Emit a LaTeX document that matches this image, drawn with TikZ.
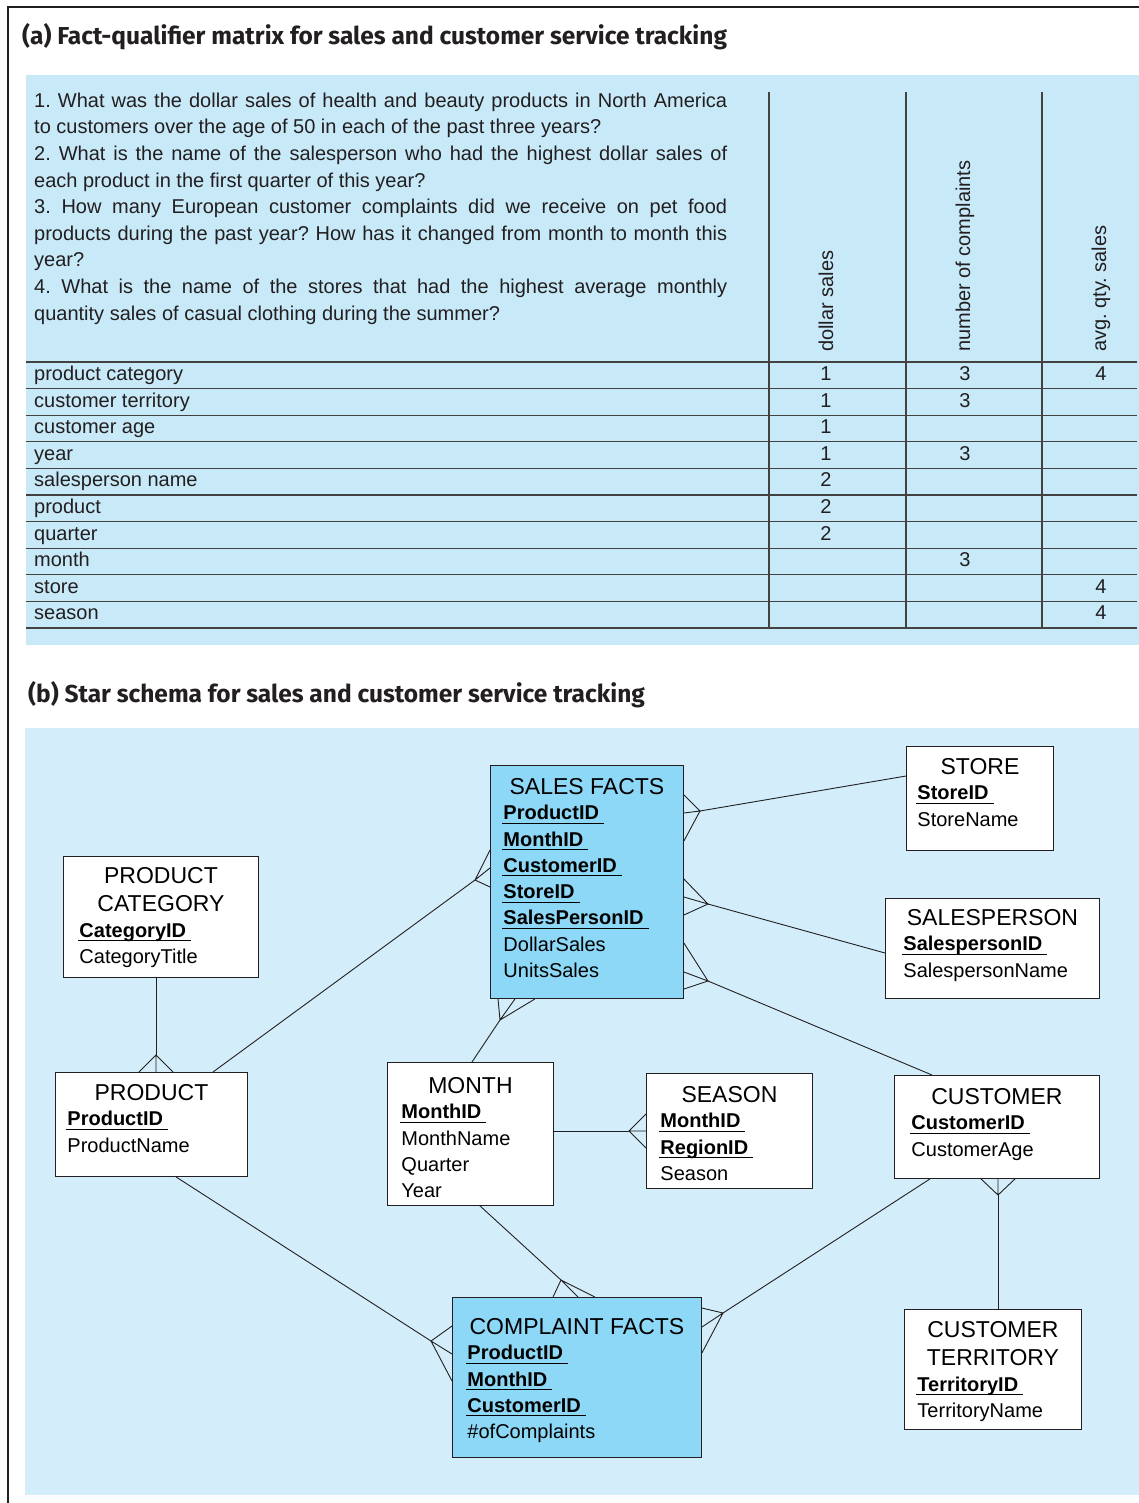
\documentclass[tikz,border=0pt]{standalone}
\usepackage{fontspec}
\setmainfont{Liberation Sans}
\newfontfamily\headfont{Fira Sans}
\frenchspacing
\definecolor{panelA}{HTML}{C7E9F8}
\definecolor{panelB}{HTML}{D3EEFA}
\definecolor{factblue}{HTML}{8DD8F6}
\definecolor{ink}{HTML}{231F20}
\newcommand{\pk}[1]{\leavevmode\setbox0\hbox{\bfseries #1}\rlap{\kern-1pt\rule[-4pt]{\dimexpr\wd0+6pt\relax}{1.1pt}}\box0}
\newcommand{\ebox}[6]{\parbox[c][#2pt][t]{#1pt}{\centering\fontsize{23}{28.5}\selectfont\rule{0pt}{#4pt}#5\par
\vspace{-1pt}\raggedright\leftskip=#3pt\fontsize{20}{26.3}\selectfont #6\par}}
\newcommand{\crow}[4]{\draw[conn] (#2) -- (#1) -- (#3) (#1) -- (#4);}
\begin{document}
\begin{tikzpicture}[x=1pt,y=-1pt,
entity/.style={draw=ink,line width=0.9pt,fill=white,inner sep=0pt,anchor=north west},
fact/.style={entity,fill=factblue},
conn/.style={draw=ink,line width=0.9pt},
grid/.style={draw=ink!85,line width=1.2pt},
headtitle/.style={anchor=base west,inner sep=0pt,text=ink,font=\headfont\bfseries\fontsize{24.5}{28}\selectfont},
qtext/.style={anchor=north west,inner sep=0pt,text width=693pt,align=justify,text=ink,font=\fontsize{20}{26.6}\selectfont},
rowlab/.style={anchor=base west,inner sep=0pt,text=ink,font=\fontsize{20}{24}\selectfont},
cell/.style={anchor=base,inner sep=0pt,text=ink,font=\fontsize{20}{24}\selectfont},
colhead/.style={rotate=90,anchor=west,inner sep=0pt,text=ink,font=\fontsize{20}{24}\selectfont}]
\useasboundingbox (0,0) rectangle (1139,1503);
\draw[ink,line width=2.5pt] (8,1503) -- (8,7) -- (1139,7);
\node[headtitle] (titleA) at (22,45) {(a) Fact-qualifier matrix for sales and customer service tracking};
\fill[panelA] (26,75) rectangle (1139,645);
\node[qtext] (questions) at (34,92.6) {1. What was the dollar sales of health and beauty products in North America\linebreak
to customers over the age of 50 in each of the past three years?\par
2. What is the name of the salesperson who had the highest dollar sales of\linebreak
each product in the first quarter of this year?\par
3. How many European customer complaints did we receive on pet food\linebreak
products during the past year? How has it changed from month to month this\linebreak
year?\par
4. What is the name of the stores that had the highest average monthly\linebreak
quantity sales of casual clothing during the summer?};
\foreach \c in {769,906,1042}{
\draw[grid] (\c,92) -- (\c,628);
}
\foreach \k in {0,...,10}{
\draw[grid] (26,{362+26.6*\k}) -- (1137,{362+26.6*\k});
}
\node[colhead] (hdollar) at (826,352) {dollar sales};
\node[colhead] (hcompl) at (965,352) {number of complaints};
\node[colhead] (hqty) at (1101,352) {avg. qty. sales};
\foreach \lab [count=\i from 0] in {product category,customer territory,customer age,year,salesperson name,product,quarter,month,store,season}{
\node[rowlab] (row\i) at (34,{380.5+26.6*\i}) {\lab};
}
\foreach \i/\c/\v in {0/826/1,0/965/3,0/1101/4,1/826/1,1/965/3,2/826/1,3/826/1,3/965/3,4/826/2,5/826/2,6/826/2,7/965/3,8/1101/4,9/1101/4}{
\node[cell] (cell\i-\c) at (\c,{380.5+26.6*\i}) {\v};
}
\node[headtitle] (titleB) at (28,702) {(b) Star schema for sales and customer service tracking};
\fill[panelB] (25,728) rectangle (1139,1495);
\node[fact] (sales) at (490,765) {\ebox{193}{233}{13}{29}{SALES FACTS}{\pk{ProductID}\\\pk{MonthID}\\\pk{CustomerID}\\\pk{StoreID}\\\pk{SalesPersonID}\\DollarSales\\UnitsSales}};
\node[entity] (store) at (906,746) {\ebox{147}{104}{11}{28}{STORE}{\pk{StoreID}\\StoreName}};
\node[entity] (pcat) at (63,856) {\ebox{195}{121}{16}{27}{PRODUCT\\CATEGORY}{\pk{CategoryID}\\CategoryTitle}};
\node[entity] (salesperson) at (885,898) {\ebox{214}{100}{18}{27}{SALESPERSON}{\pk{SalespersonID}\\SalespersonName}};
\node[entity] (product) at (55,1072) {\ebox{192}{104}{12}{28}{PRODUCT}{\pk{ProductID}\\ProductName}};
\node[entity] (month) at (387,1062) {\ebox{166}{143}{14}{31}{MONTH}{\pk{MonthID}\\MonthName\\Quarter\\Year}};
\node[entity] (season) at (646,1073) {\ebox{166}{115}{14}{29}{SEASON}{\pk{MonthID}\\\pk{RegionID}\\Season}};
\node[entity] (customer) at (894,1075) {\ebox{205}{103}{17}{29}{CUSTOMER}{\pk{CustomerID}\\CustomerAge}};
\node[fact] (complaint) at (452,1297) {\ebox{249}{160}{15}{37}{COMPLAINT FACTS}{\pk{ProductID}\\\pk{MonthID}\\\pk{CustomerID}\\\#ofComplaints}};
\node[entity] (territory) at (904,1309) {\ebox{177}{120}{13}{28}{CUSTOMER\\TERRITORY}{\pk{TerritoryID}\\TerritoryName}};
\coordinate (fStore) at (700,811);
\draw[conn] (store.west |- 0,776) -- (fStore);
\crow{fStore}{sales.east |- 0,795}{sales.east |- 0,813}{sales.east |- 0,841}
\coordinate (fSalesp) at (708,904);
\draw[conn] (salesperson.west |- 0,953) -- (fSalesp);
\crow{fSalesp}{sales.east |- 0,879}{sales.east |- 0,897}{sales.east |- 0,915}
\coordinate (fCust) at (708,981);
\draw[conn] (customer.north -| 932,0) -- (fCust);
\crow{fCust}{sales.east |- 0,943}{sales.east |- 0,972}{sales.east |- 0,989}
\coordinate (fProd) at (475,880);
\draw[conn] (product.north -| 213,0) -- (fProd);
\crow{fProd}{sales.west |- 0,850}{sales.west |- 0,868}{sales.west |- 0,887}
\coordinate (fMonth) at (500,1020);
\draw[conn] (month.north -| 472,0) -- (fMonth);
\crow{fMonth}{sales.south -| 498,0}{sales.south -| 515,0}{sales.south -| 535,0}
\coordinate (fCat) at (156,1055);
\draw[conn] (pcat.south -| 156,0) -- (fCat);
\crow{fCat}{product.north -| 139,0}{product.north -| 156,0}{product.north -| 173,0}
\coordinate (fSeason) at (629,1131);
\draw[conn] (month.east |- 0,1131) -- (fSeason);
\crow{fSeason}{season.west |- 0,1114}{season.west |- 0,1131}{season.west |- 0,1148}
\coordinate (fCmMonth) at (561,1280);
\draw[conn] (month.south -| 480,0) -- (fCmMonth);
\crow{fCmMonth}{complaint.north -| 553,0}{complaint.north -| 578,0}{complaint.north -| 595,0}
\coordinate (fCmProd) at (431,1341);
\draw[conn] (product.south -| 176,0) -- (fCmProd);
\crow{fCmProd}{complaint.west |- 0,1326}{complaint.west |- 0,1354}{complaint.west |- 0,1381}
\coordinate (fCmCust) at (723,1313);
\draw[conn] (customer.south -| 930,0) -- (fCmCust);
\crow{fCmCust}{complaint.east |- 0,1308}{complaint.east |- 0,1327}{complaint.east |- 0,1353}
\coordinate (fTerr) at (998,1195);
\draw[conn] (territory.north -| 998,0) -- (fTerr);
\crow{fTerr}{customer.south -| 981,0}{customer.south -| 998,0}{customer.south -| 1015,0}
\end{tikzpicture}
\end{document}
